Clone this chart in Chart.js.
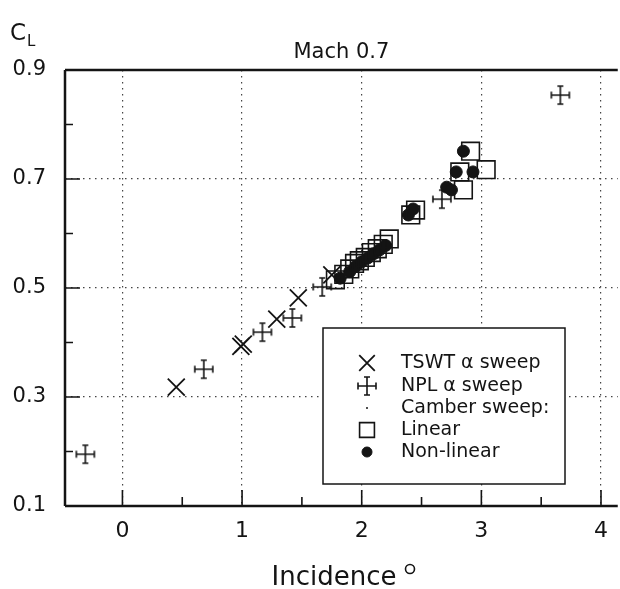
<!DOCTYPE html>
<html>
<head>
<meta charset="utf-8">
<script src="https://cdn.jsdelivr.net/npm/chart.js@4.4.1/dist/chart.umd.min.js"></script>
<style>
    html, body { margin: 0; padding: 0; background: #ffffff; overflow: hidden; }
    #clChart { display: block; }
</style>
</head>
<body>
<canvas id="clChart" width="620" height="589"></canvas>
<script>
// Incidence (deg) and C_L readings
const tswtX = [0.45, 0.99, 1.01, 1.29, 1.47, 1.75];
const tswtY = [0.318, 0.393, 0.397, 0.443, 0.482, 0.524];

const nplX = [-0.31, 0.68, 1.17, 1.42, 1.67, 2.67, 3.66];
const nplY = [0.195, 0.351, 0.419, 0.445, 0.502, 0.663, 0.854];

const linearX = [1.78, 1.85, 1.90, 1.94, 1.98, 2.03, 2.08, 2.13, 2.18, 2.23, 2.41, 2.45, 2.85, 2.82, 3.04, 2.91];
const linearY = [0.515, 0.525, 0.535, 0.545, 0.550, 0.556, 0.565, 0.572, 0.580, 0.590, 0.634, 0.643, 0.680, 0.713, 0.717, 0.751];

const nonlinX = [1.82, 1.90, 1.95, 2.00, 2.05, 2.10, 2.15, 2.20, 2.39, 2.43, 2.71, 2.75, 2.79, 2.93, 2.85];
const nonlinY = [0.518, 0.530, 0.540, 0.548, 0.555, 0.563, 0.570, 0.578, 0.634, 0.645, 0.685, 0.680, 0.713, 0.713, 0.751];

const xTicks = [0, 1, 2, 3, 4];
const yTicks = [0.1, 0.3, 0.5, 0.7, 0.9];

const legendLabels = ["TSWT \u03b1 sweep", "NPL \u03b1 sweep", "Camber sweep:", "Linear", "Non-linear"];

const ink = "#141414";

function toPoints(xs, ys) {
    return xs.map(function (x, i) { return { x: x, y: ys[i] }; });
}

// error-bar cross used for the NPL points
function makeErrorCross() {
    const c = document.createElement("canvas");
    c.width = 24;
    c.height = 24;
    const g = c.getContext("2d");
    g.strokeStyle = ink;
    g.lineWidth = 1.6;
    g.beginPath();
    g.moveTo(3, 12); g.lineTo(21, 12);
    g.moveTo(12, 3); g.lineTo(12, 21);
    g.moveTo(3, 8.5); g.lineTo(3, 15.5);
    g.moveTo(21, 8.5); g.lineTo(21, 15.5);
    g.moveTo(9, 3); g.lineTo(15, 3);
    g.moveTo(9, 21); g.lineTo(15, 21);
    g.stroke();
    return c;
}
const errorCross = makeErrorCross();

const frame = {
    id: "frame",
    afterDraw: function (chart) {
        const ctx = chart.ctx;
        const a = chart.chartArea;
        const xs = chart.scales.x;
        const ys = chart.scales.y;
        ctx.save();
        ctx.strokeStyle = ink;
        ctx.fillStyle = ink;

        // axes lines
        ctx.lineWidth = 2.5;
        ctx.beginPath();
        ctx.moveTo(a.left, a.top); ctx.lineTo(a.right, a.top);
        ctx.moveTo(a.left, a.top); ctx.lineTo(a.left, a.bottom);
        ctx.moveTo(a.left, a.bottom); ctx.lineTo(a.right, a.bottom);
        ctx.stroke();

        // inward ticks
        ctx.lineWidth = 1.6;
        ctx.beginPath();
        for (let v = 0; v <= 4.01; v += 0.5) {
            const px = xs.getPixelForValue(v);
            const len = Math.abs(v - Math.round(v)) < 0.01 ? 16 : 9;
            ctx.moveTo(px, a.bottom); ctx.lineTo(px, a.bottom - len);
        }
        for (let k = 2; k <= 8; k++) {
            const py = ys.getPixelForValue(k / 10);
            const len = k % 2 === 1 ? 15 : 8;
            ctx.moveTo(a.left, py); ctx.lineTo(a.left + len, py);
        }
        ctx.stroke();

        // C_L
        ctx.font = "23px 'DejaVu Sans'";
        ctx.textBaseline = "alphabetic";
        ctx.textAlign = "left";
        ctx.fillText("C", 10, 40);
        ctx.font = "15px 'DejaVu Sans'";
        ctx.fillText("L", 27, 46);

        // title
        ctx.font = "21px 'DejaVu Sans'";
        ctx.textAlign = "center";
        ctx.fillText("Mach 0.7", (a.left + a.right) / 2, 58);

        // x axis title with degree mark
        ctx.font = "26px 'DejaVu Sans'";
        ctx.fillText("Incidence", 334, 585);
        ctx.lineWidth = 1.6;
        ctx.beginPath();
        ctx.arc(410, 569, 4.5, 0, Math.PI * 2);
        ctx.stroke();

        // legend
        const bx = 323, by = 328, bw = 242, bh = 156;
        ctx.fillStyle = "#ffffff";
        ctx.fillRect(bx, by, bw, bh);
        ctx.lineWidth = 1.5;
        ctx.strokeStyle = ink;
        ctx.strokeRect(bx, by, bw, bh);

        const sets = chart.data.datasets;
        const rows = [
            { ds: sets[0], r: 11 },
            { ds: sets[1], r: 0 },
            { ds: null, r: 0 },
            { ds: sets[2], r: 10.5 },
            { ds: sets[3], r: 5 }
        ];
        const rowY = [363, 386, 408, 430, 452];
        ctx.font = "19px 'DejaVu Sans'";
        ctx.textAlign = "left";
        ctx.textBaseline = "middle";
        rows.forEach(function (row, i) {
            const sy = rowY[i];
            ctx.fillStyle = ink;
            ctx.strokeStyle = ink;
            if (row.ds) {
                ctx.lineWidth = row.ds.borderWidth || 1.5;
                ctx.fillStyle = row.ds.backgroundColor;
                Chart.helpers.drawPoint(ctx, {
                    pointStyle: row.ds.pointStyle,
                    radius: row.r || row.ds.pointRadius,
                    borderWidth: row.ds.borderWidth,
                    rotation: 0
                }, 367, sy);
            } else {
                ctx.beginPath();
                ctx.arc(367, sy, 1, 0, Math.PI * 2);
                ctx.fill();
            }
            ctx.fillStyle = ink;
            ctx.fillText(legendLabels[i], 401, sy);
        });
        ctx.restore();
    }
};

new Chart(document.getElementById("clChart"), {
    type: "scatter",
    data: {
        datasets: [{
            label: legendLabels[0],
            data: toPoints(tswtX, tswtY),
            pointStyle: "crossRot",
            pointRadius: 12,
            borderColor: ink,
            backgroundColor: ink,
            borderWidth: 1.8
        }, {
            label: legendLabels[1],
            data: toPoints(nplX, nplY),
            pointStyle: errorCross,
            pointRadius: 12,
            borderColor: ink,
            backgroundColor: ink,
            borderWidth: 1
        }, {
            label: legendLabels[3],
            data: toPoints(linearX, linearY),
            pointStyle: "rect",
            pointRadius: 12.5,
            borderColor: ink,
            backgroundColor: "rgba(255,255,255,0)",
            borderWidth: 1.6
        }, {
            label: legendLabels[4],
            data: toPoints(nonlinX, nonlinY),
            pointStyle: "circle",
            pointRadius: 6,
            borderColor: ink,
            backgroundColor: ink,
            borderWidth: 1
        }]
    },
    options: {
        responsive: false,
        animation: false,
        events: [],
        layout: {
            autoPadding: false,
            padding: { top: 70, right: 0, bottom: 0, left: 0 }
        },
        plugins: {
            legend: { display: false },
            title: { display: false },
            tooltip: { enabled: false }
        },
        scales: {
            x: {
                type: "linear",
                min: -0.48,
                max: 4.14,
                afterFit: function (scale) { scale.height = 83; },
                afterBuildTicks: function (scale) {
                    scale.ticks = xTicks.map(function (v) { return { value: v }; });
                },
                ticks: {
                    padding: 12,
                    color: ink,
                    font: { family: "DejaVu Sans", size: 22 },
                    callback: function (value) { return String(value); }
                },
                grid: {
                    drawTicks: false,
                    lineWidth: 1.2,
                    color: "#444444"
                },
                border: { display: false, dash: [1.5, 4.5] }
            },
            y: {
                type: "linear",
                min: 0.1,
                max: 0.9,
                afterFit: function (scale) { scale.width = 65; },
                afterBuildTicks: function (scale) {
                    scale.ticks = yTicks.map(function (v) { return { value: v }; });
                },
                ticks: {
                    padding: 19,
                    color: ink,
                    font: { family: "DejaVu Sans", size: 21 },
                    callback: function (value) { return value.toFixed(1); }
                },
                grid: {
                    drawTicks: false,
                    lineWidth: 1.2,
                    color: function (c) {
                        const v = c.tick ? c.tick.value : 0;
                        return (v > 0.15 && v < 0.85) ? "#444444" : "rgba(0,0,0,0)";
                    }
                },
                border: { display: false, dash: [1.5, 4.5] }
            }
        }
    },
    plugins: [frame]
});
</script>
</body>
</html>
